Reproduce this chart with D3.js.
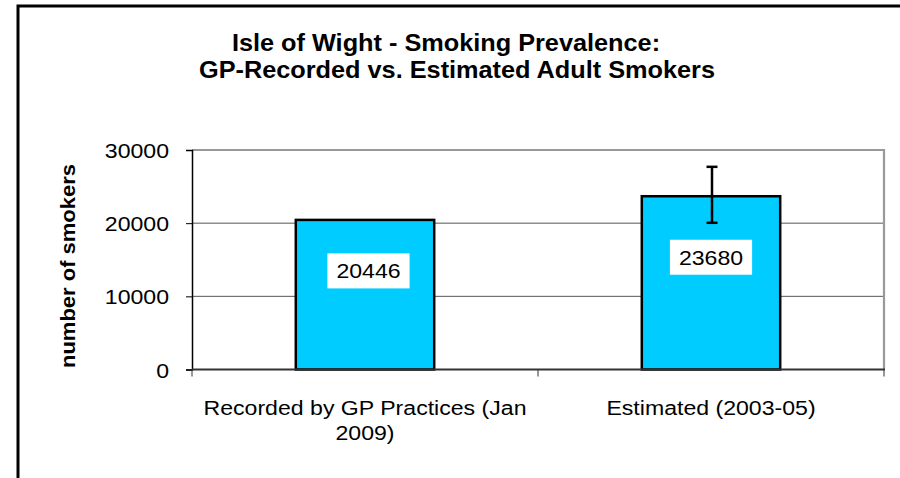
<!DOCTYPE html>
<html>
<head>
<meta charset="utf-8">
<script src="https://cdn.jsdelivr.net/npm/d3@7"></script>
<style>
  html, body { margin: 0; padding: 0; background: #fff; }
  svg { display: block; }
  text { font-family: Arial, "Liberation Sans", sans-serif; fill: #000; }
</style>
</head>
<body>
<svg id="chart" width="900" height="478"></svg>
<script>
// Chart data
const titleLines = ["Isle of Wight - Smoking Prevalence:", "GP-Recorded vs. Estimated Adult Smokers"];
const categories = ["Recorded by GP Practices (Jan 2009)", "Estimated (2003-05)"];
const values = [20446, 23680];
const errorLow = [null, 20050];
const errorHigh = [null, 27700];
const yTicks = [0, 10000, 20000, 30000];
const yTitle = "number of smokers";

// Layout
const W = 900, H = 478;
const plot = { left: 192, right: 884, top: 150, bottom: 369.5 };
const textStretch = 1.1;            // glyphs are drawn slightly wide
const bodySize = 21;
const labelDrop = [51, 61];         // value-label centre below bar top

const svg = d3.select("#chart");

// outer frame (runs off the right and bottom edges)
svg.append("rect")
  .attr("x", 18).attr("y", 6)
  .attr("width", W + 20).attr("height", H + 20)
  .attr("fill", "#fff").attr("stroke", "#000").attr("stroke-width", 3);

const x = d3.scaleBand().domain(categories).range([plot.left, plot.right]).paddingInner(0.6).paddingOuter(0.3);
const y = d3.scaleLinear().domain([0, 30000]).range([plot.bottom, plot.top]);

// helper: text widened along its baseline
function stretched(sel, cx, cy, rot) {
  return sel.attr("transform", `translate(${cx},${cy}) rotate(${rot || 0}) scale(${textStretch},1)`);
}

// title
titleLines.forEach((t, i) => {
  stretched(svg.append("text"), i === 0 ? 446 : 457, 51 + i * 27)
    .attr("text-anchor", "middle")
    .attr("font-weight", "bold")
    .attr("font-size", 23)
    .text(t);
});

// gridlines
svg.append("g").selectAll("line")
  .data(yTicks.filter(d => d > 0 && d < 30000))
  .join("line")
  .attr("x1", plot.left).attr("x2", plot.right)
  .attr("y1", d => y(d)).attr("y2", d => y(d))
  .attr("stroke", "#555").attr("stroke-width", 1);

// plot-area border (top and right)
svg.append("path")
  .attr("d", `M${plot.left},${y(30000)}H${plot.right}V${plot.bottom}`)
  .attr("fill", "none").attr("stroke", "#999").attr("stroke-width", 2.2);

// y axis
const yAxis = d3.axisLeft(y).tickValues(yTicks).tickSize(6).tickFormat(d3.format("d"));
const gy = svg.append("g").attr("transform", `translate(${plot.left},0)`).call(yAxis);
gy.select(".domain").attr("stroke", "#000").attr("stroke-width", 1.5);
gy.selectAll(".tick line").attr("stroke", "#000");
gy.selectAll(".tick text").remove();
gy.selectAll(".tick").each(function(d) {
  stretched(d3.select(this).append("text"), -23, 0)
    .attr("text-anchor", "end")
    .attr("dy", "0.36em")
    .attr("font-size", bodySize)
    .text(d3.format("d")(d));
});

// bars
svg.append("g").selectAll("rect")
  .data(values)
  .join("rect")
  .attr("x", (d, i) => x(categories[i]))
  .attr("width", x.bandwidth())
  .attr("y", d => y(d))
  .attr("height", d => y(0) - y(d))
  .attr("fill", "#00CCFF")
  .attr("stroke", "#000").attr("stroke-width", 2.5);

// error bars
const eb = svg.append("g").attr("stroke", "#000").attr("stroke-width", 2.5);
values.forEach((v, i) => {
  if (errorLow[i] == null) return;
  const cx = x(categories[i]) + x.bandwidth() / 2 + 1;
  eb.append("line").attr("x1", cx).attr("x2", cx).attr("y1", y(errorHigh[i])).attr("y2", y(errorLow[i]));
  [errorHigh[i], errorLow[i]].forEach(e => {
    eb.append("line").attr("x1", cx - 5.5).attr("x2", cx + 5.5).attr("y1", y(e)).attr("y2", y(e));
  });
});

// x axis
const xAxisG = svg.append("g");
xAxisG.append("line")
  .attr("x1", plot.left).attr("x2", plot.right + 1)
  .attr("y1", y(0)).attr("y2", y(0))
  .attr("stroke", "#333").attr("stroke-width", 2);
const boundaries = [plot.left, (plot.left + plot.right) / 2, plot.right];
xAxisG.selectAll("line.tk").data(boundaries).join("line")
  .attr("class", "tk")
  .attr("x1", d => d).attr("x2", d => d)
  .attr("y1", y(0)).attr("y2", y(0) + 7)
  .attr("stroke", "#333").attr("stroke-width", 1);

// category labels, wrapped to the category width
const step = x.step();
categories.forEach((c, i) => {
  const cx = x(c) + x.bandwidth() / 2;
  const words = c.split(" ");
  const lines = [];
  let cur = [];
  const probe = svg.append("text").attr("font-size", bodySize);
  words.forEach(w => {
    const trial = cur.concat(w).join(" ");
    probe.text(trial);
    if (probe.node().getComputedTextLength() * textStretch > step - 10 && cur.length) {
      lines.push(cur.join(" "));
      cur = [w];
    } else cur.push(w);
  });
  lines.push(cur.join(" "));
  probe.remove();
  lines.forEach((ln, k) => {
    stretched(svg.append("text"), cx, y(0) + 45 + k * 25)
      .attr("text-anchor", "middle")
      .attr("font-size", bodySize)
      .text(ln);
  });
});

// value labels in white boxes
values.forEach((v, i) => {
  const cx = x(categories[i]) + x.bandwidth() / 2 + (i === 0 ? 3.5 : 0);
  const cy = y(v) + labelDrop[i];
  const g = svg.append("g");
  const t = stretched(g.append("text"), cx, cy)
    .attr("text-anchor", "middle")
    .attr("dy", "0.36em")
    .attr("font-size", bodySize)
    .text(d3.format("d")(v));
  const w = t.node().getComputedTextLength() * textStretch;
  g.insert("rect", "text")
    .attr("x", cx - w / 2 - 9).attr("y", cy - 17.5)
    .attr("width", w + 18).attr("height", 35)
    .attr("fill", "#fff");
});

// y-axis title
stretched(svg.append("text"), 75, 266, -90)
  .attr("text-anchor", "middle")
  .attr("font-weight", "bold")
  .attr("font-size", 20)
  .text(yTitle);
</script>
</body>
</html>
